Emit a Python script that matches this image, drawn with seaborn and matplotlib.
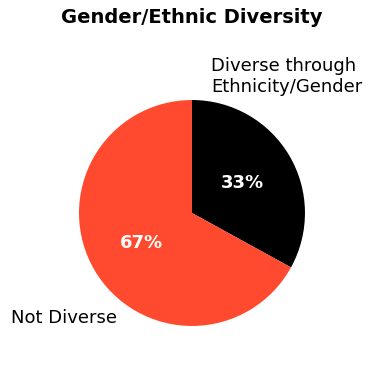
import matplotlib
matplotlib.use("Agg")
import matplotlib.pyplot as plt
import seaborn as sns

# data
labels = ["Diverse through\nEthnicity/Gender", "Not Diverse"]
values = [33, 67]
colors = ["#000000", "#FF4A2F"]

sns.set_style("white")
plt.rcParams["font.family"] = ["DejaVu Sans"]
plt.rcParams["text.color"] = "black"

fig = plt.figure(figsize=(3.84, 3.74), dpi=100)
ax = fig.add_axes([0.5 - 0.2943, 0.4305 - 0.3021, 0.5885, 0.6042])

wedges, texts, autotexts = ax.pie(
    values,
    labels=labels,
    colors=colors,
    startangle=90,
    counterclock=False,
    autopct="%d%%",
    pctdistance=0.52,
    wedgeprops=dict(linewidth=0),
    textprops=dict(fontsize=13, color="black"),
)
ax.set_aspect("equal")
ax.set_xlim(-1, 1)
ax.set_ylim(-1, 1)

for t in autotexts:
    t.set_color("white")
    t.set_fontweight("bold")
    t.set_fontsize(13)

# label placement
texts[0].set_position((0.168, 1.21))
texts[0].set_ha("left")
texts[0].set_va("center")
texts[1].set_position((-1.60, -0.93))
texts[1].set_ha("left")
texts[1].set_va("center")

fig.text(0.5, 0.952, "Gender/Ethnic Diversity", ha="center", va="center",
         fontsize=14, fontweight="bold", color="black")

fig.savefig("out.png", dpi=100)
